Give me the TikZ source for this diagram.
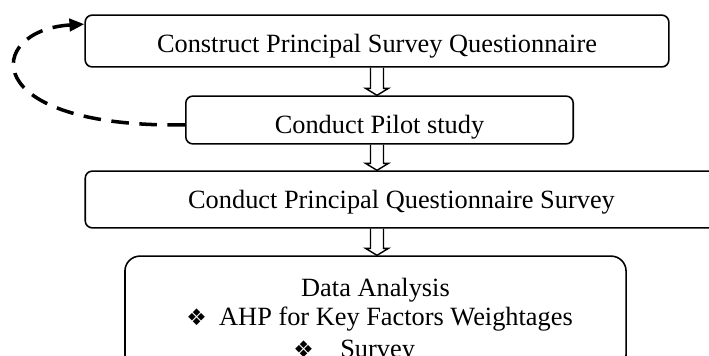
\documentclass[tikz,border=0pt]{standalone}
\usepackage{fontspec}
\setmainfont{Liberation Serif}
\newfontfamily\symfont{DejaVu Sans}
\usetikzlibrary{arrows.meta,calc}
\newcommand{\stepfont}{\fontsize{15}{18}\selectfont}
\newcommand{\hollowdown}[2]{%
  \draw[hollowarrow] ($(axis |- #1.south)+(-6.5,0)$) -- ($(axis |- #2.north)+(-6.5,-7)$) -- ++(-5,0)
    -- (axis |- #2.north) -- ++(11.5,-7) -- ++(-5,0) -- ($(axis |- #1.south)+(6.5,0)$);}
\tikzset{
  stepbox/.style={draw,line width=0.9pt,rounded corners=4pt,inner sep=0pt,anchor=base,font=\stepfont},
  itemline/.style={inner sep=0pt,anchor=base west,font=\stepfont},
  hollowarrow/.style={line width=0.8pt},
  loopback/.style={line width=2pt,dash pattern=on 10pt off 6pt,-{Triangle[length=8.5pt,width=7pt]}}
}
\begin{document}
\begin{tikzpicture}[x=0.02cm,y=-0.02cm]
\useasboundingbox (0,0) rectangle (709,355);
\clip (0,0) rectangle (709,355);
\coordinate (axis) at (377,0);
\node[stepbox,minimum width=332.2pt,text height=21pt,text depth=8.5pt] (construct) at (377,52)
  {Construct Principal Survey Questionnaire};
\node[stepbox,minimum width=220.5pt,text height=21pt,text depth=6.2pt] (pilot) at (379.5,133)
  {Conduct Pilot study};
\node[stepbox,minimum width=360pt,text height=21pt,text depth=11.3pt] (survey) at (401.5,208)
  {Conduct Principal Questionnaire Survey};
\node[stepbox,rounded corners=8.5pt,minimum width=285.2pt,text height=22.7pt,text depth=42pt] (analysis) at (375.5,296)
  {Data Analysis};
\node[itemline] (ahp) at (186,325) {\makebox[18.7pt][l]{\symfont\fontsize{13}{13}\selectfont ❖}AHP for Key Factors Weightages};
\node[itemline] (surveyitem) at (293,357) {\makebox[26.7pt][l]{\symfont\fontsize{13}{13}\selectfont ❖}Survey};
\hollowdown{construct}{pilot}
\hollowdown{pilot}{survey}
\hollowdown{survey}{analysis}
\draw[loopback] ([yshift=-2.8pt]pilot.west) .. controls (-25,128) and (-15,30) .. ([yshift=9.6pt]construct.west);
\end{tikzpicture}
\end{document}
